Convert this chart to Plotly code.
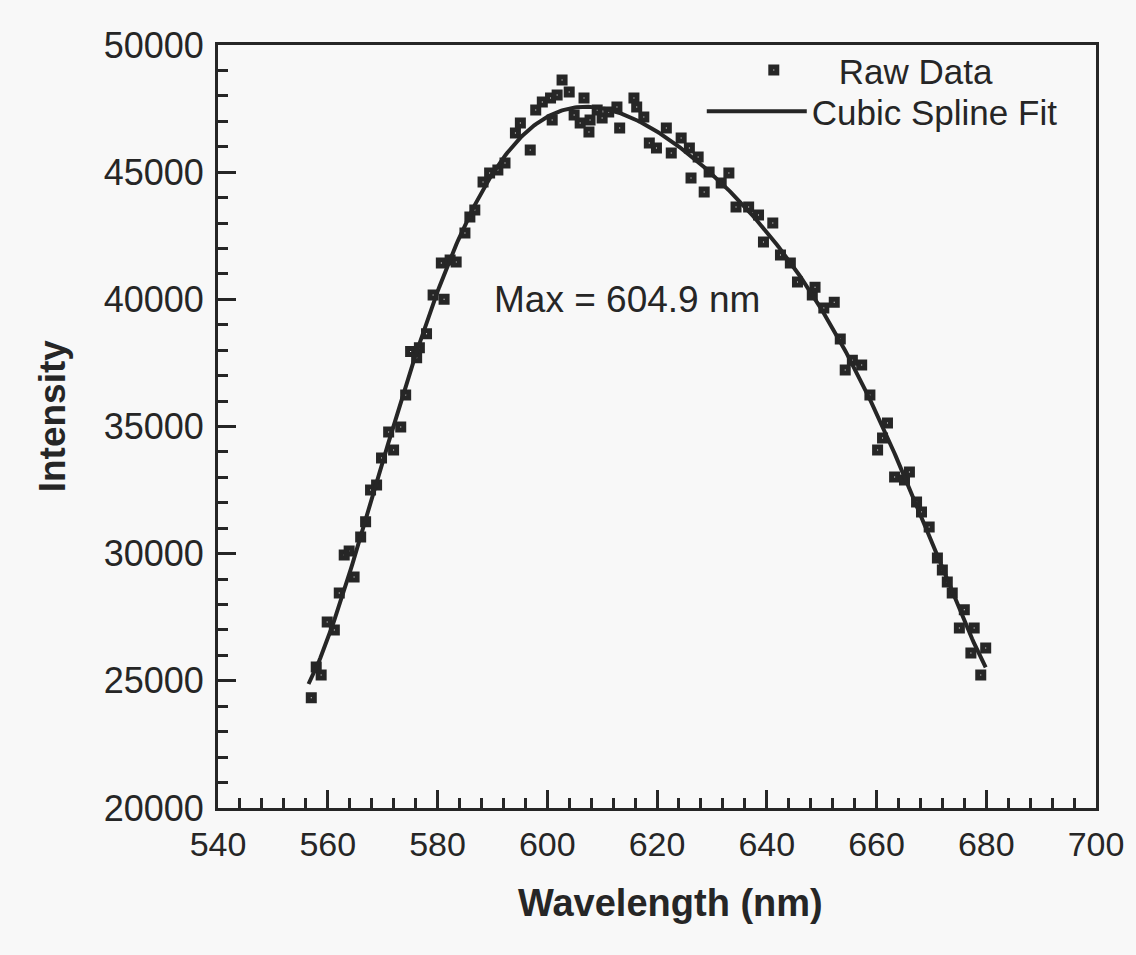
import numpy as np
import plotly.graph_objects as go

# Emission spectrum: measured points (nm, counts)
wavelength = [
    557.0, 557.9, 558.8, 559.9, 561.2, 562.1, 563.0, 563.9, 564.8, 566.0,
    566.9, 567.8, 568.9, 569.8, 571.1, 572.0, 573.3, 574.2, 575.1, 576.2,
    576.7, 578.0, 579.2, 580.7, 581.2, 582.3, 583.4, 585.0, 585.9, 586.8,
    588.3, 589.5, 591.0, 592.3, 594.2, 595.1, 596.9, 597.9, 599.1, 600.6,
    600.9, 601.8, 602.7, 604.0, 604.9, 606.0, 606.7, 607.6, 607.8, 609.1,
    610.0, 611.2, 612.7, 613.2, 615.8, 616.3, 617.6, 618.6, 619.9, 621.7,
    622.6, 624.4, 625.9, 626.2, 627.5, 628.6, 629.5, 631.7, 633.1, 634.4,
    636.7, 638.5, 639.4, 641.1, 642.5, 644.3, 645.6, 648.3, 648.8, 650.4,
    652.3, 653.4, 654.3, 655.6, 657.3, 658.8, 660.2, 661.1, 662.0, 663.3,
    665.1, 666.0, 667.3, 668.2, 669.6, 671.1, 672.0, 672.9, 673.8, 675.1,
    676.0, 677.2, 677.8, 679.0, 679.9,
]
intensity = [
    24330, 25540, 25230, 27310, 27000, 28450, 29950, 30100, 29080, 30660,
    31250, 32500, 32700, 33760, 34780, 34080, 34980, 36240, 37950, 37700,
    38100, 38650, 40170, 41430, 40000, 41550, 41470, 42610, 43240, 43510,
    44610, 44970, 45090, 45360, 46540, 46930, 45870, 47440, 47760, 47920,
    47050, 48030, 48620, 48150, 47250, 46930, 47920, 46580, 47050, 47440,
    47130, 47370, 47560, 46740, 47920, 47560, 47170, 46150, 45950, 46740,
    45750, 46340, 45950, 44770, 45600, 44220, 45010, 44570, 44970, 43630,
    43630, 43320, 42250, 43000, 41740, 41430, 40680, 40170, 40480, 39660,
    39890, 38440, 37220, 37600, 37420, 36240, 34080, 34550, 35140, 33010,
    32900, 33210, 32030, 31640, 31050, 29830, 29360, 28890, 28450, 27080,
    27790, 26090, 27080, 25230, 26290,
]

x_ticks = [540, 560, 580, 600, 620, 640, 660, 680, 700]
y_ticks = [20000, 25000, 30000, 35000, 40000, 45000, 50000]

# Smooth fit through the measured points
wl = np.array(wavelength)
it = np.array(intensity)
mid, half = wl.mean(), (wl.max() - wl.min()) / 2
coef = np.polyfit((wl - mid) / half, it, 6)
fit_x = np.linspace(wl.min() - 0.5, wl.max(), 400)
fit_y = np.polyval(coef, (fit_x - mid) / half)

ink = "#262626"
font = "Liberation Sans, Arial, sans-serif"

fig = go.Figure()
fig.add_trace(go.Scatter(
    x=wavelength, y=intensity, mode="markers", name="Raw Data",
    legend="legend",
    marker=dict(symbol="square-open", size=6, color=ink,
                line=dict(color=ink, width=5)),
))
fig.add_trace(go.Scatter(
    x=fit_x, y=fit_y, mode="lines", name="Cubic Spline Fit",
    legend="legend2",
    line=dict(color=ink, width=4),
))

fig.add_annotation(
    x=614.5, y=40000, xref="x", yref="y", text="Max = 604.9 nm",
    showarrow=False, font=dict(family=font, size=37, color=ink),
)

# Axis titles
fig.add_annotation(
    x=0.515, y=-0.1245, xref="paper", yref="paper", xanchor="center",
    yanchor="middle", showarrow=False, text="<b>Wavelength (nm)</b>",
    font=dict(family=font, size=38, color=ink),
)
fig.add_annotation(
    x=-0.1876, y=0.5138, xref="paper", yref="paper", xanchor="center",
    yanchor="middle", showarrow=False, textangle=-90, text="<b>Intensity</b>",
    font=dict(family=font, size=37, color=ink),
)

axis_common = dict(
    showgrid=False, zeroline=False, showline=True, mirror=True,
    linecolor=ink, linewidth=3, ticks="inside", tickcolor=ink,
    tickwidth=3, ticklen=18, tickformat="d",
)

fig.update_xaxes(
    range=[540, 700], tickvals=x_ticks, ticklabelstandoff=4,
    tickfont=dict(family=font, size=34, color=ink),
    minor=dict(ticks="inside", dtick=4, ticklen=10, tickwidth=3, tickcolor=ink),
    **axis_common,
)
fig.update_yaxes(
    range=[20000, 50000], tickvals=y_ticks, ticklabelstandoff=4,
    tickfont=dict(family=font, size=36, color=ink),
    minor=dict(ticks="inside", dtick=1000, ticklen=10, tickwidth=3, tickcolor=ink),
    **axis_common,
)

legend_font = dict(family=font, size=35, color=ink)
fig.update_layout(
    width=1136, height=955,
    margin=dict(l=218, r=33, t=45, b=147),
    paper_bgcolor="#f8f8f8", plot_bgcolor="#f8f8f8",
    showlegend=True,
    legend=dict(x=0.559, y=0.967, xanchor="left", yanchor="middle",
                bgcolor="rgba(0,0,0,0)", itemwidth=120, font=legend_font),
    legend2=dict(x=0.551, y=0.913, xanchor="left", yanchor="middle",
                 bgcolor="rgba(0,0,0,0)", itemwidth=100, font=legend_font),
)

fig.write_html("out.html")
